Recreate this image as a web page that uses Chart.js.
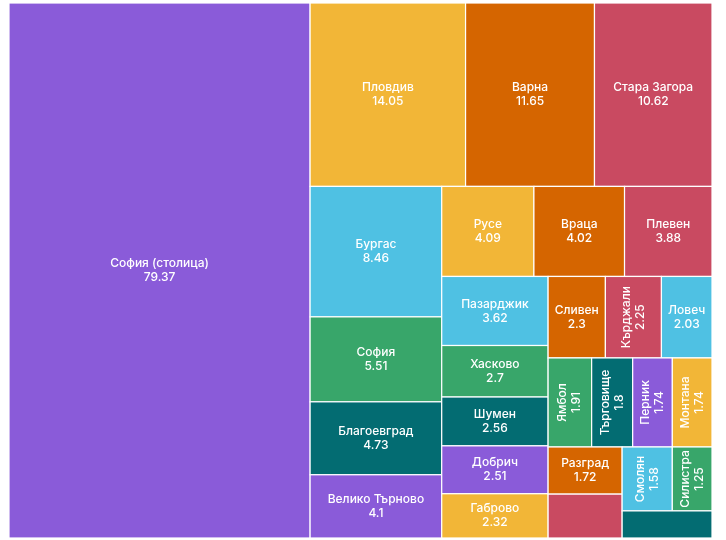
<!DOCTYPE html>
<html>
<head>
<meta charset="utf-8">
<script src="https://cdn.jsdelivr.net/npm/chart.js@4.4.1/dist/chart.umd.min.js"></script>
<style>
  body { margin: 0; background: #fff; }
  #wrap { width: 726px; height: 540px; }
</style>
</head>
<body>
<div id="wrap"><canvas id="chart"></canvas></div>
<script>
const regions = ["София (столица)", "Пловдив", "Варна", "Стара Загора", "Бургас", "София", "Благоевград",
  "Велико Търново", "Русе", "Враца", "Плевен", "Пазарджик", "Хасково", "Шумен", "Добрич", "Габрово",
  "Сливен", "Кърджали", "Ловеч", "Ямбол", "Търговище", "Перник", "Монтана", "Разград", "Кюстендил",
  "Смолян", "Силистра", "Видин"];
const values = [79.37, 14.05, 11.65, 10.62, 8.46, 5.51, 4.73, 4.1, 4.09, 4.02, 3.88, 3.62, 2.7, 2.56,
  2.51, 2.32, 2.3, 2.25, 2.03, 1.91, 1.8, 1.74, 1.74, 1.72, 1.6, 1.58, 1.25, 1.2];
// how many regions go into each strip of the treemap, in order
const rowSizes = [1, 3, 4, 3, 5, 3, 4, 2, 2, 1];
// labels not shown for these cells
const hiddenLabels = ["Кюстендил", "Видин"];
const palette = ["#8a5bd9", "#f2b637", "#d56500", "#c94a61", "#4fc1e3", "#38a66a", "#036c72"];

const W = 703, H = 535;
function layout(vals, rect) {
  const total = vals.reduce((a, b) => a + b, 0);
  const areas = vals.map(v => v / total * rect.w * rect.h);
  const out = [];
  let r = { ...rect };
  let i = 0;
  rowSizes.forEach(n => {
    const row = areas.slice(i, i + n);
    const s = row.reduce((a, b) => a + b, 0);
    if (r.w >= r.h) {
      const cw = s / r.h;
      let y = r.y;
      row.forEach(a => { const h = a / cw; out.push({ x: r.x, y: y, w: cw, h: h }); y += h; });
      r = { x: r.x + cw, y: r.y, w: r.w - cw, h: r.h };
    } else {
      const ch = s / r.w;
      let x = r.x;
      row.forEach(a => { const w = a / ch; out.push({ x: x, y: r.y, w: w, h: ch }); x += w; });
      r = { x: r.x, y: r.y + ch, w: r.w, h: r.h - ch };
    }
    i += n;
  });
  return out;
}
const cells = layout(values, { x: 0, y: 0, w: W, h: H });

const treemapPlugin = {
  id: "treemap",
  afterDatasetsDraw(chart) {
    const ctx = chart.ctx;
    const xs = chart.scales.x, ys = chart.scales.y;
    ctx.save();
    cells.forEach((c, k) => {
      const x1 = xs.getPixelForValue(c.x), x2 = xs.getPixelForValue(c.x + c.w);
      const y1 = ys.getPixelForValue(c.y), y2 = ys.getPixelForValue(c.y + c.h);
      ctx.fillStyle = palette[k % palette.length];
      ctx.fillRect(x1, y1, x2 - x1, y2 - y1);
      ctx.strokeStyle = "#ffffff";
      ctx.lineWidth = 1.2;
      ctx.strokeRect(x1, y1, x2 - x1, y2 - y1);
      if (hiddenLabels.includes(regions[k])) return;
      ctx.fillStyle = "#ffffff";
      ctx.font = "500 12px Inter, 'Noto Sans', sans-serif";
      ctx.textAlign = "center";
      ctx.textBaseline = "middle";
      const w = x2 - x1, h = y2 - y1;
      const tw = ctx.measureText(regions[k]).width;
      ctx.save();
      ctx.translate((x1 + x2) / 2, (y1 + y2) / 2);
      if (tw + 6 > w && h > w) ctx.rotate(-Math.PI / 2);
      ctx.fillText(regions[k], 0, -7);
      ctx.fillText(String(values[k]), 0, 7);
      ctx.restore();
    });
    ctx.restore();
  }
};

new Chart(document.getElementById("chart"), {
  type: "scatter",
  data: { datasets: [{ data: [] }] },
  options: {
    responsive: true,
    maintainAspectRatio: false,
    animation: false,
    layout: { padding: { left: 9, right: 14, top: 3, bottom: 2 } },
    plugins: { legend: { display: false }, tooltip: { enabled: false } },
    scales: {
      x: { type: "linear", min: 0, max: W, display: false },
      y: { type: "linear", min: 0, max: H, reverse: true, display: false }
    }
  },
  plugins: [treemapPlugin]
});
</script>
</body>
</html>
